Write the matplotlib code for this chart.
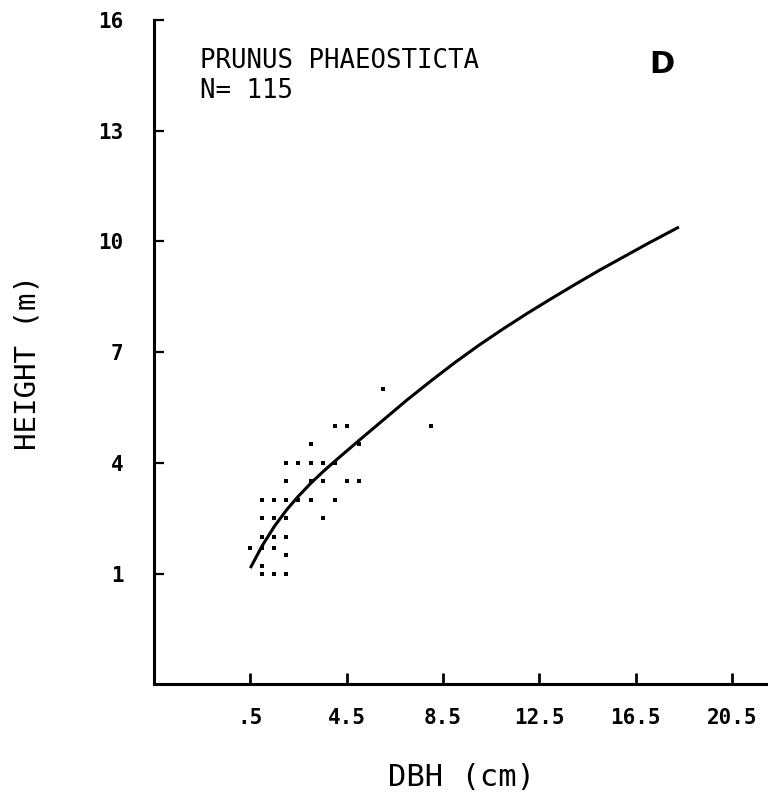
"""
DBH-树高散点与拟合曲线 (Prunus phaeosticta, 面板 D)
"""
import matplotlib
matplotlib.use('Agg')
import matplotlib.pyplot as plt

plt.rcParams['font.family'] = ['DejaVu Sans Mono', 'DejaVu Sans']

# 拟合曲线
curve_dbh = [0.5, 1.0, 1.5, 2.0, 2.5, 3.0, 3.5, 4.0, 4.5, 5.0, 6.0, 7.0, 8.0,
             9.0, 10.0, 11.0, 12.0, 13.0, 14.0, 15.0, 16.0, 17.0, 18.3]
curve_height = [1.15, 1.76, 2.28, 2.72, 3.10, 3.44, 3.75, 4.04, 4.32, 4.60, 5.15,
                5.70, 6.22, 6.72, 7.19, 7.63, 8.05, 8.45, 8.84, 9.22, 9.58, 9.94, 10.39]

# 观测点 (DBH cm, 树高 m)
obs_dbh = [6.0,
           4.0, 4.5, 8.0,
           3.0, 5.0,
           2.0, 2.5, 3.0, 3.5, 4.0,
           2.0, 3.0, 3.5, 4.5, 5.0,
           1.0, 1.5, 2.0, 2.5, 3.0, 4.0,
           1.0, 1.5, 2.0, 3.5,
           1.0, 1.5, 2.0,
           0.5, 1.0, 1.5,
           2.0,
           1.0,
           1.0, 1.5, 2.0]
obs_height = [6.0,
              5.0, 5.0, 5.0,
              4.5, 4.5,
              4.0, 4.0, 4.0, 4.0, 4.0,
              3.5, 3.5, 3.5, 3.5, 3.5,
              3.0, 3.0, 3.0, 3.0, 3.0, 3.0,
              2.5, 2.5, 2.5, 2.5,
              2.0, 2.0, 2.0,
              1.7, 1.7, 1.7,
              1.5,
              1.2,
              1.0, 1.0, 1.0]

x_ticks = [0.5, 4.5, 8.5, 12.5, 16.5, 20.5]
x_tick_labels = ['.5', '4.5', '8.5', '12.5', '16.5', '20.5']
y_ticks = [1, 4, 7, 10, 13, 16]
y_tick_labels = ['1', '4', '7', '10', '13', '16']

species = 'PRUNUS PHAEOSTICTA'
n_label = 'N= 115'
panel = 'D'

W, H = 768, 796
fig = plt.figure(figsize=(W / 100, H / 100), dpi=100)
ax = fig.add_axes([154 / W, 1 - 684.3 / H, 614 / W, 664.3 / H])
ax.set_xlim(-3.5, 22.0)
ax.set_ylim(-2, 16)

# 散点 + 曲线
ax.plot(obs_dbh, obs_height, linestyle='none', marker='s', markersize=2.4,
        color='black', markeredgewidth=0)
ax.plot(curve_dbh, curve_height, color='black', linewidth=2.2,
        solid_capstyle='butt', solid_joinstyle='round')

# 坐标轴样式
for side in ['top', 'right']:
    ax.spines[side].set_visible(False)
for side in ['left', 'bottom']:
    ax.spines[side].set_linewidth(2.2)

ax.set_xticks(x_ticks)
ax.set_xticklabels(x_tick_labels)
ax.set_yticks(y_ticks)
ax.set_yticklabels(y_tick_labels)
ax.tick_params(axis='x', direction='in', length=8, width=2, pad=17,
               labelsize=15)
ax.tick_params(axis='y', direction='in', length=7.5, width=1.6, pad=22,
               labelsize=15)
for lab in ax.get_xticklabels() + ax.get_yticklabels():
    lab.set_fontweight('bold')

# 文字
ax.text(-1.6, 14.70, species, ha='left', va='baseline', fontsize=18.5)
ax.text(-1.6, 13.89, n_label, ha='left', va='baseline', fontsize=18.5)
ax.text(17.58, 14.56, panel, ha='center', va='baseline', fontsize=22,
        fontweight='bold', family='DejaVu Sans')

fig.text(28 / W, 1 - 363 / H, 'HEIGHT (m)', rotation=90, ha='center',
         va='center', fontsize=21)
fig.text(461 / W, 1 - 777 / H, 'DBH (cm)', ha='center', va='center',
         fontsize=22)

fig.savefig('out.png', dpi=100, facecolor='white')
